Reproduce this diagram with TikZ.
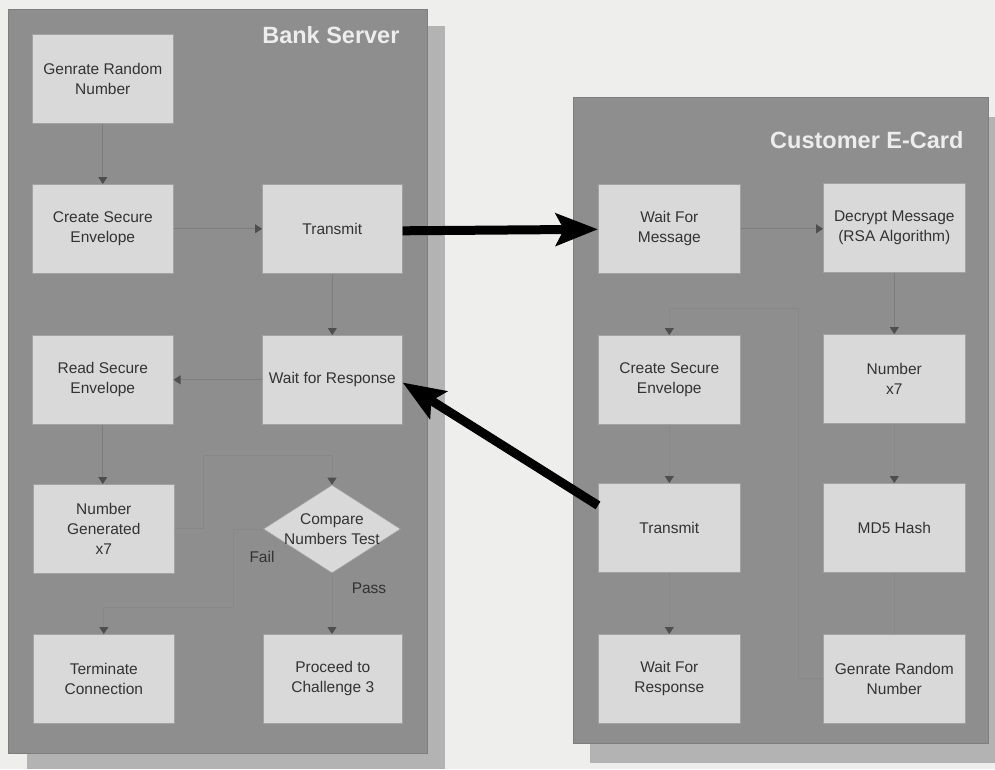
\documentclass[tikz,border=0pt]{standalone}
\usepackage{fontspec}
\setmainfont{Liberation Sans}
\usetikzlibrary{arrows.meta,shapes.geometric,calc}
\definecolor{bg}{HTML}{EEEEEC}
\definecolor{panel}{HTML}{8E8E8E}
\definecolor{panelline}{HTML}{7E7E7E}
\definecolor{shadowc}{HTML}{B3B3B3}
\definecolor{boxc}{HTML}{D9D9D9}
\definecolor{boxline}{HTML}{A2A2A2}
\definecolor{conn}{HTML}{7D7D7D}
\definecolor{faintc}{HTML}{888888}
\definecolor{tipc}{HTML}{4E4E4E}
\definecolor{txt}{HTML}{333333}
\definecolor{titlec}{HTML}{EDEDED}
\begin{document}
\begin{tikzpicture}[x=1pt,y=-1pt,
  stepbox/.style={draw=boxline, line width=0.6pt, fill=boxc, minimum width=141pt,
    minimum height=89pt, inner sep=0pt, align=center,
    font=\fontsize{15.5}{20}\selectfont, text=txt, anchor=north west},
  titletext/.style={font=\bfseries\fontsize{23.5}{26}\selectfont, text=titlec, anchor=base east},
  lbl/.style={font=\fontsize{15.5}{18}\selectfont, text=txt},
  conn/.style={draw=conn, line width=0.8pt},
  faint/.style={draw=faintc, line width=0.8pt},
  tip/.style={-{Triangle[length=7pt,width=9pt,color=tipc]}},
  big/.style={draw=black, line width=9pt, -{Stealth[length=42pt,width=32pt,inset=8pt]}}]
\useasboundingbox (0,0) rectangle (995,769);
\fill[bg] (0,0) rectangle (995,769);
% panels
\fill[shadowc] (27,26) rectangle (445,769);
\fill[panel, draw=panelline, line width=0.5pt] (8,9) rectangle (427,753);
\fill[shadowc] (590,117) rectangle (995,763);
\fill[panel, draw=panelline, line width=0.5pt] (573,97) rectangle (988,743);
\node[titletext] (t1) at (403,43) {Bank Server};
\node[titletext] (t2) at (967,148) {Customer E-Card};
% bank nodes
\node[stepbox] (b1) at (32,34) {Genrate Random\\Number};
\node[stepbox] (b2) at (32,184) {Create Secure\\Envelope};
\node[stepbox, minimum width=140pt] (b3) at (262,184) {Transmit};
\node[stepbox] (b4) at (32,335) {Read Secure\\Envelope};
\node[stepbox, minimum width=140pt] (b5) at (262,335) {Wait for Response};
\node[stepbox] (b6) at (33,484) {Number\\Generated\\x7};
\node[diamond, draw=boxline, line width=0.6pt, fill=boxc, minimum width=137pt,
  minimum height=88pt, inner sep=0pt] (cmp) at (332,529) {};
\node[lbl, align=center, font=\fontsize{15.5}{20}\selectfont] (cmpt) at (cmp.center) {Compare\\Numbers Test};
\node[stepbox] (b7) at (33,634) {Terminate\\Connection};
\node[stepbox, minimum width=139pt] (b8) at (263,634) {Proceed to\\Challenge 3};
% customer nodes
\node[stepbox, minimum width=142pt] (c1) at (598,184) {Wait For\\Message};
\node[stepbox, minimum width=142pt] (c2) at (823,183) {Decrypt Message\\(RSA Algorithm)};
\node[stepbox, minimum width=142pt] (c3) at (598,335) {Create Secure\\Envelope};
\node[stepbox, minimum width=142pt] (c4) at (823,334) {Number\\x7};
\node[stepbox, minimum width=142pt] (c5) at (598,483) {Transmit};
\node[stepbox, minimum width=142pt] (c6) at (823,483) {MD5 Hash};
\node[stepbox, minimum width=142pt] (c7) at (598,634) {Wait For\\Response};
\node[stepbox, minimum width=142pt] (c8) at (823,634) {Genrate Random\\Number};
% junction coordinates
\coordinate (j1) at (203,455);
\coordinate (j2) at (233,607);
\coordinate (j3) at (798,308);
% bank connectors
\draw[conn,tip] (b1.south) -- (b1.south |- b2.north);
\draw[conn,tip] (b2.east) -- (b2.east -| b3.west);
\draw[conn,tip] (b3.south) -- (b3.south |- b5.north);
\draw[conn,tip] (b5.west) -- (b5.west -| b4.east);
\draw[conn,tip] (b4.south) -- (b4.south |- b6.north);
\draw[faint,tip] (b6.east) -| (j1) -| (cmp.north);
\draw[faint,tip] (cmp.west) -| (j2) -| (b7.north);
\draw[faint,tip] (cmp.south) -- (cmp.south |- b8.north);
\node[lbl] (fail) at (262,557) {Fail};
\node[lbl] (pass) at (369,588) {Pass};
% customer connectors
\draw[conn,tip] (c1.east) -- (c1.east -| c2.west);
\draw[conn,tip] (c2.south) -- (c2.south |- c4.north);
\draw[faint,tip] (c4.south) -- (c4.south |- c6.north);
\draw[faint] (c6.south) -- (c6.south |- c8.north);
\draw[faint,tip] (c8.west) -| (j3) -| (c3.north);
\draw[faint,tip] (c3.south) -- (c3.south |- c5.north);
\draw[faint,tip] (c5.south) -- (c5.south |- c7.north);
% big arrows between panels
\draw[big] ($(b3.east)+(0,2)$) -- ($(c1.west)+(0,0.5)$);
\draw[big] ($(c5.north west)!0.25!(c5.south west)$) -- ($(b5.north east)!0.53!(b5.south east)$);
\end{tikzpicture}
\end{document}
